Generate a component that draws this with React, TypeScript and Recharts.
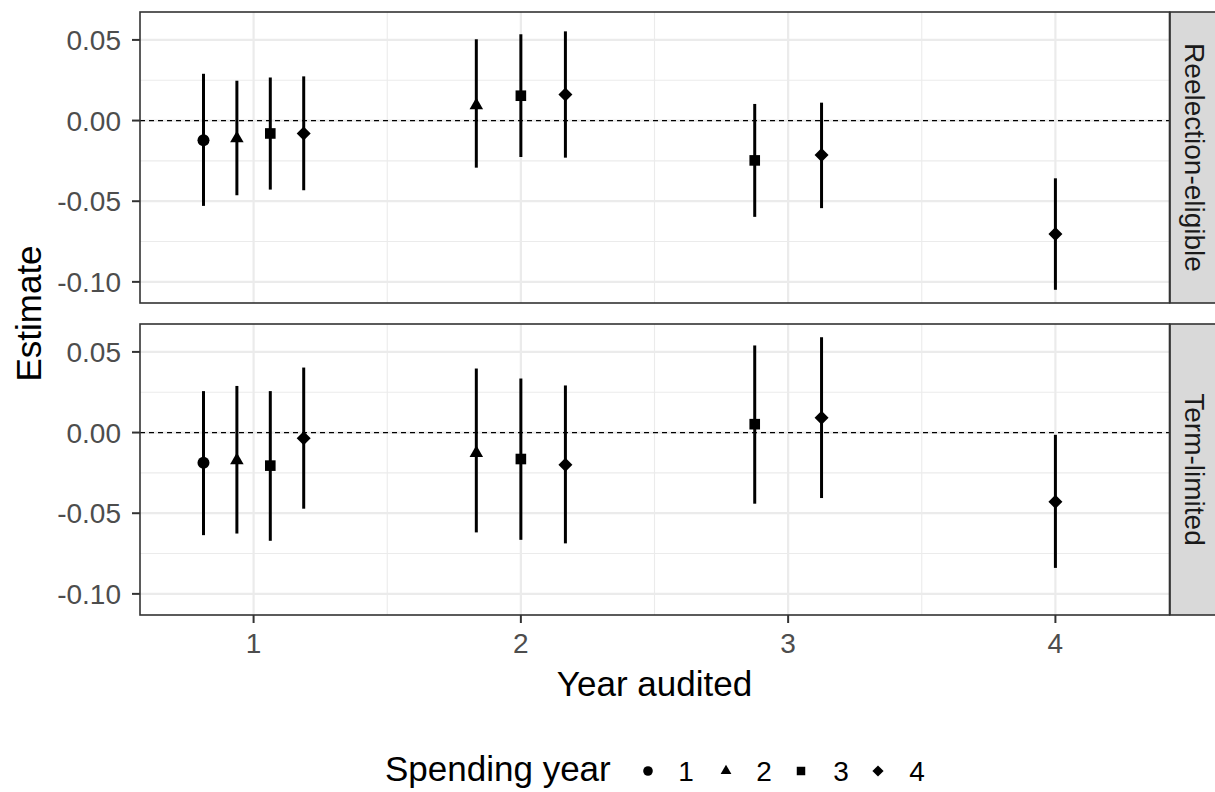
import React from 'react';
import { ScatterChart, Scatter, XAxis, YAxis, CartesianGrid, ReferenceLine, ErrorBar } from 'recharts';

// ---------- data ----------
const yearTicks = [1, 2, 3, 4];
const estimateTicks = [-0.1, -0.05, 0, 0.05];
const spendingYears = [1, 2, 3, 4];
const panelLabels = ['Reelection-eligible', 'Term-limited'];

// one entry per estimate (same order in every array)
const yearAudited = [1, 1, 1, 1, 2, 2, 2, 3, 3, 4];
const spendingYear = [1, 2, 3, 4, 2, 3, 4, 3, 4, 4];

const reelEst = [-0.0122, -0.0111, -0.008, -0.008, 0.0095, 0.0154, 0.0162, -0.0247, -0.0214, -0.0704];
const reelLow = [-0.0529, -0.0463, -0.0428, -0.0432, -0.0292, -0.0226, -0.023, -0.0597, -0.0543, -0.1049];
const reelHigh = [0.029, 0.0247, 0.0267, 0.0274, 0.0504, 0.0535, 0.0553, 0.0103, 0.0111, -0.0358];

const termEst = [-0.0187, -0.0172, -0.0205, -0.0035, -0.0127, -0.0164, -0.0199, 0.0052, 0.0092, -0.0429];
const termLow = [-0.0636, -0.0626, -0.0671, -0.0472, -0.0619, -0.0665, -0.0687, -0.0441, -0.0406, -0.0839];
const termHigh = [0.0257, 0.0289, 0.0257, 0.0403, 0.0397, 0.0335, 0.0292, 0.054, 0.0591, -0.0014];

// ---------- helpers ----------
const DODGE = 0.5;
const X_DOMAIN: [number, number] = [0.575, 4.425];
const Y_DOMAIN: [number, number] = [-0.1131, 0.0673];
const minorX = [1.5, 2.5, 3.5];
const minorY = [-0.075, -0.025, 0.025];

function dodgedX(i: number): number {
  const yr = yearAudited[i];
  const group: number[] = [];
  yearAudited.forEach((y, j) => { if (y === yr) group.push(j); });
  const n = group.length;
  const k = group.indexOf(i);
  return yr + (k - (n - 1) / 2) * (DODGE / n);
}

function buildRows(est: number[], low: number[], high: number[]) {
  return yearAudited.map((_, i) => ({
    x: dodgedX(i),
    y: est[i],
    err: [est[i] - low[i], high[i] - est[i]],
    s: spendingYear[i],
  }));
}

const panels = [
  buildRows(reelEst, reelLow, reelHigh),
  buildRows(termEst, termLow, termHigh),
];

const FONT = '"Liberation Sans", Arial, Helvetica, sans-serif';

function Marker({ cx, cy, kind, k = 1 }: { cx: number; cy: number; kind: number; k?: number }) {
  if (cx == null || cy == null) return null;
  if (kind === 1) return <circle cx={cx} cy={cy} r={6 * k} fill="#000" />;
  if (kind === 2) {
    const r = 7.8 * k, h = r / 2, w = r * 0.866;
    return <polygon points={`${cx},${cy - r} ${cx + w},${cy + h} ${cx - w},${cy + h}`} fill="#000" />;
  }
  if (kind === 3) {
    const a = 5.3 * k;
    return <rect x={cx - a} y={cy - a} width={2 * a} height={2 * a} fill="#000" />;
  }
  const d = 7 * k;
  return <polygon points={`${cx},${cy - d} ${cx + d},${cy} ${cx},${cy + d} ${cx - d},${cy}`} fill="#000" />;
}

const tickStyle = { fill: '#4D4D4D', fontSize: 28, fontFamily: FONT };

function Panel({ rows, showX, height, marginBottom }: { rows: any[]; showX: boolean; height: number; marginBottom: number }) {
  return (
    <ScatterChart width={1215} height={height} margin={{ top: 12, right: 46, bottom: marginBottom, left: 0 }}>
      <CartesianGrid stroke="#EBEBEB" strokeWidth={1.1} horizontalValues={minorY} verticalValues={minorX} />
      <CartesianGrid stroke="#EBEBEB" strokeWidth={2.2} horizontalValues={estimateTicks} verticalValues={yearTicks} />
      <XAxis
        type="number"
        dataKey="x"
        domain={X_DOMAIN}
        allowDataOverflow
        ticks={yearTicks}
        hide={!showX}
        height={40}
        axisLine={false}
        tickSize={8}
        tickMargin={10}
        tickLine={{ stroke: '#333333', strokeWidth: 2 }}
        tick={tickStyle}
        interval={0}
      />
      <YAxis
        type="number"
        dataKey="y"
        domain={Y_DOMAIN}
        allowDataOverflow
        ticks={estimateTicks}
        width={140}
        axisLine={false}
        tickSize={8}
        tickMargin={11}
        tickLine={{ stroke: '#333333', strokeWidth: 2 }}
        tick={tickStyle}
        tickFormatter={(v: number) => v.toFixed(2)}
        interval={0}
      />
      <ReferenceLine y={0} stroke="#000" strokeWidth={1.3} strokeDasharray="5 4" />
      {spendingYears.map((s) => (
        <Scatter
          key={s}
          data={rows.filter((r) => r.s === s)}
          dataKey="y"
          isAnimationActive={false}
          shape={(p: any) => <Marker cx={p.cx} cy={p.cy} kind={s} />}
        >
          <ErrorBar dataKey="err" direction="y" width={0} stroke="#000" strokeWidth={3} isAnimationActive={false} />
        </Scatter>
      ))}
    </ScatterChart>
  );
}

export default function App() {
  const panelTops = [12, 324];
  const panelH = 291;
  const legendItems = [
    { s: 1, sx: 648, lx: 686 },
    { s: 2, sx: 726, lx: 764 },
    { s: 3, sx: 801, lx: 841 },
    { s: 4, sx: 878, lx: 917 },
  ];
  return (
    <div style={{ position: 'absolute', left: 0, top: 0, width: 1215, height: 792, background: '#fff', overflow: 'hidden' }}>
      <div style={{ position: 'absolute', left: 0, top: 0 }}>
        <Panel rows={panels[0]} showX={false} height={315} marginBottom={12} />
      </div>
      <div style={{ position: 'absolute', left: 0, top: 312 }}>
        <Panel rows={panels[1]} showX={true} height={360} marginBottom={17} />
      </div>
      <svg width={1215} height={792} style={{ position: 'absolute', left: 0, top: 0, pointerEvents: 'none' }}>
        {panelTops.map((t, i) => (
          <g key={i}>
            <rect x={1170} y={t} width={60} height={panelH} fill="#D9D9D9" stroke="#333333" strokeWidth={1.6} />
            <rect x={140} y={t} width={1029.5} height={panelH} fill="none" stroke="#333333" strokeWidth={1.6} />
            <text
              x={1194}
              y={t + panelH / 2}
              transform={`rotate(90, 1194, ${t + panelH / 2})`}
              textAnchor="middle"
              dominantBaseline="central"
              fontFamily={FONT}
              fontSize={28}
              fill="#1A1A1A"
            >
              {panelLabels[i]}
            </text>
          </g>
        ))}
        <text
          x={41}
          y={313.5}
          transform="rotate(-90, 41, 313.5)"
          textAnchor="middle"
          fontFamily={FONT}
          fontSize={35}
          fill="#000"
        >
          Estimate
        </text>
        <text x={654.5} y={696} textAnchor="middle" fontFamily={FONT} fontSize={35} fill="#000">
          Year audited
        </text>
        <text x={385} y={781} textAnchor="start" fontFamily={FONT} fontSize={35} fill="#000">
          Spending year
        </text>
        {legendItems.map((it) => (
          <g key={it.s}>
            <Marker cx={it.sx} cy={771} kind={it.s} k={0.8} />
            <text x={it.lx} y={781} textAnchor="middle" fontFamily={FONT} fontSize={28} fill="#000">
              {String(it.s)}
            </text>
          </g>
        ))}
      </svg>
    </div>
  );
}
